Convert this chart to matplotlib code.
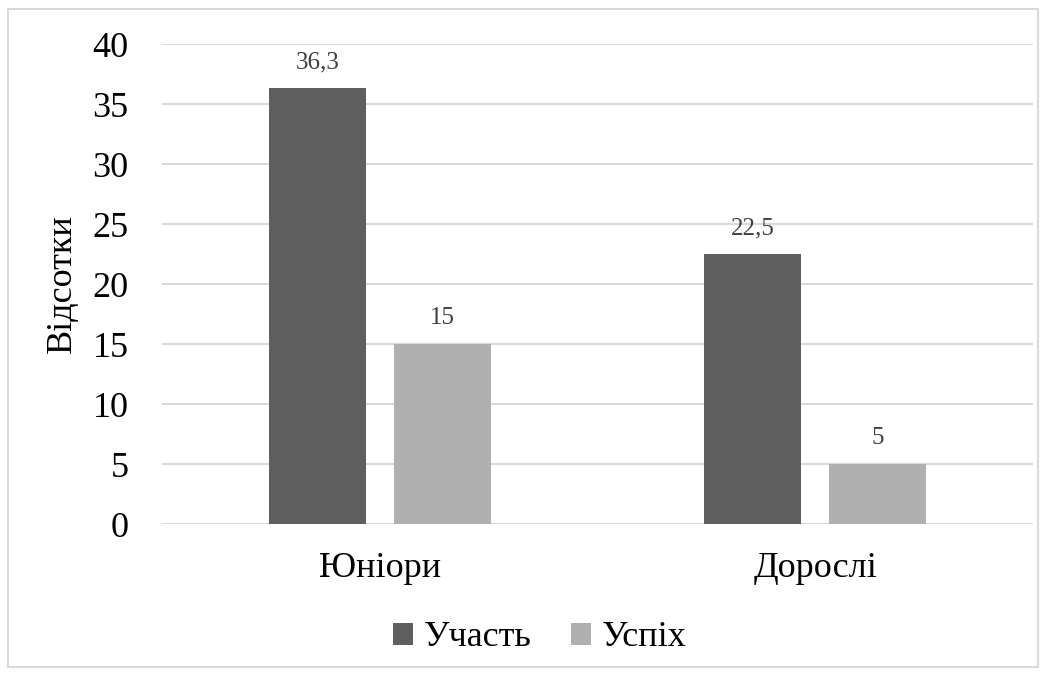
import matplotlib
matplotlib.use("Agg")
import matplotlib.pyplot as plt
from matplotlib.patches import Rectangle
import numpy as np

# Data
categories = ['Юніори', 'Дорослі']
series_names = ['Участь', 'Успіх']
uchast = [36.3, 22.5]
uspikh = [15, 5]
value_labels = [['36,3', '22,5'], ['15', '5']]
colors = ['#5f5f5f', '#b0b0b0']

plt.rcParams['font.family'] = 'serif'
plt.rcParams['font.serif'] = ['Liberation Serif', 'DejaVu Serif']

fig = plt.figure(figsize=(10.48, 6.75), dpi=100)
ax = fig.add_axes([0.1546, 0.2237, 0.8311, 0.7111])

# Border round the whole chart
fig.patches.append(Rectangle((8 / 1048, 8 / 675), 1030 / 1048, 658 / 675,
                             transform=fig.transFigure, fill=False,
                             edgecolor='#d9d9d9', linewidth=1.5))

x = np.arange(len(categories))
width = 0.223
offset = 0.1435

for i, vals in enumerate([uchast, uspikh]):
    pos = x + (-offset if i == 0 else offset)
    bars = ax.bar(pos, vals, width, color=colors[i], label=series_names[i], zorder=3)
    for b, lab in zip(bars, value_labels[i]):
        ax.text(b.get_x() + b.get_width() / 2, b.get_height() + 1.25, lab,
                ha='center', va='bottom', fontsize=18, color='#404040')

ax.set_xlim(-0.5, 1.5)
ax.set_ylim(0, 40)
ax.set_yticks(range(0, 41, 5))
ax.yaxis.grid(True, color='#d9d9d9', linewidth=1.5, zorder=0)
ax.set_axisbelow(True)
for s in ['top', 'right', 'left', 'bottom']:
    ax.spines[s].set_visible(False)
ax.tick_params(axis='both', length=0, labelsize=26, colors='black')
ax.tick_params(axis='y', pad=24)
ax.tick_params(axis='x', pad=20)
ax.set_xticks(x)
ax.set_xticklabels(categories)
ax.set_ylabel('Відсотки', fontsize=26, labelpad=10)

ax.legend(loc='center', bbox_to_anchor=(540 / 1048, 1 - 638 / 675),
          bbox_transform=fig.transFigure, ncol=2, frameon=False, fontsize=26,
          handlelength=0.55, handleheight=0.55, handletextpad=0.3, columnspacing=1.1)

fig.savefig('out.png', dpi=100)
